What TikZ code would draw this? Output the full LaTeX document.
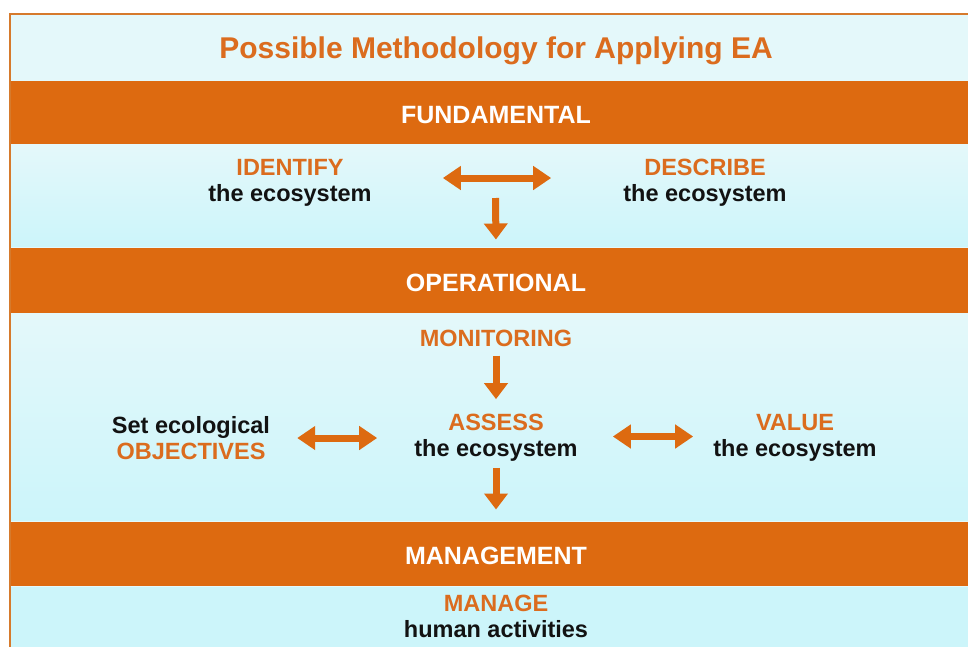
\documentclass[tikz,border=0pt]{standalone}
\usepackage{xcolor}
\usepackage{fontspec}
\setmainfont{Liberation Sans}
\usepackage{tikz}
\usetikzlibrary{arrows.meta}
\usetikzlibrary{positioning}

\definecolor{eaorange}{RGB}{221,106,16}
\definecolor{eatext}{RGB}{219,108,30}
\definecolor{eaframe}{RGB}{214,122,44}
\definecolor{eapale}{RGB}{228,248,250}
\definecolor{eacyan}{RGB}{204,245,250}
\definecolor{eaink}{RGB}{18,18,18}

\tikzset{
  band/.style = {rectangle, fill=eaorange, draw=eapale, line width=1pt, minimum width=972pt, inner sep=0pt, text height=22pt, text depth=0pt, text=white, font=\fontsize{25}{28}\selectfont\bfseries},
  stage/.style = {rectangle, draw=none, inner sep=0pt, align=center, text=eaink, font=\fontsize{23.5}{26}\selectfont\bfseries},
  twoway/.style = {{Triangle[length=18pt,width=23pt]}-{Triangle[length=18pt,width=23pt]}, line width=7pt, draw=eaorange},
  oneway/.style = {-{Triangle[length=16pt,width=23pt]}, line width=7pt, draw=eaorange}
}

\begin{document}
\begin{tikzpicture}[x=1pt, y=-1pt]
\useasboundingbox (0, 0) rectangle (968, 646);
\clip (0, 0) rectangle (968, 646);
% pale zones behind the bands
\fill [eapale] (10, 14) rectangle (990, 80);
\shade [top color=eapale, bottom color=eacyan] (10, 145) rectangle (990, 247);
\shade [top color=eapale, bottom color=eacyan] (10, 313) rectangle (990, 521);
\shade [top color=eacyan, bottom color=eacyan] (10, 586) rectangle (990, 670);

\node [stage, text=eatext, font=\fontsize{30}{34}\selectfont\bfseries] (title) at (496, 51) {Possible Methodology for Applying EA};

\node [band, minimum height=64pt] (fundamental) at (496, 112.5) {FUNDAMENTAL};
\node [band, minimum height=66pt] (operational) at (496, 280) {OPERATIONAL};
\node [band, minimum height=65pt] (management) at (496, 553.5) {MANAGEMENT};

\node [stage] (identify) at (290, 182.5) {\textcolor{eatext}{IDENTIFY}\\the ecosystem};
\node [stage] (describe) at (705, 182.5) {\textcolor{eatext}{DESCRIBE}\\the ecosystem};
\coordinate (split) at (495.5, 198);

\node [stage, text=eatext] (monitoring) at (496, 338) {MONITORING};
\node [stage] (objectives) at (191, 438) {Set ecological\\\textcolor{eatext}{OBJECTIVES}};
\node [stage] (assess) at (496, 438) {\textcolor{eatext}{ASSESS}\\the ecosystem};
\node [stage] (value) at (795, 438) {\textcolor{eatext}{VALUE}\\the ecosystem};

\node [stage] (manage) at (496, 616) {\textcolor{eatext}{MANAGE}\\human activities};

\draw [twoway, shorten <=71pt, shorten >=72pt] ([yshift=4.5pt]identify.east) to ([yshift=4.5pt]describe.west);
\draw [oneway, shorten >=7pt] (split) to (operational.north);
\draw [oneway, shorten <=9pt, shorten >=15pt] (monitoring) to (assess);
\draw [twoway, shorten <=27pt, shorten >=37pt] (objectives) to (assess);
\draw [twoway, shorten <=35pt, shorten >=20pt] ([yshift=1.5pt]assess.east) to ([yshift=1.5pt]value.west);
\draw [oneway, shorten <=6pt, shorten >=11pt] (assess) to (management.north);

\draw [eaframe, line width=2pt] (10, 14) rectangle (990, 670);
\end{tikzpicture}
\end{document}
